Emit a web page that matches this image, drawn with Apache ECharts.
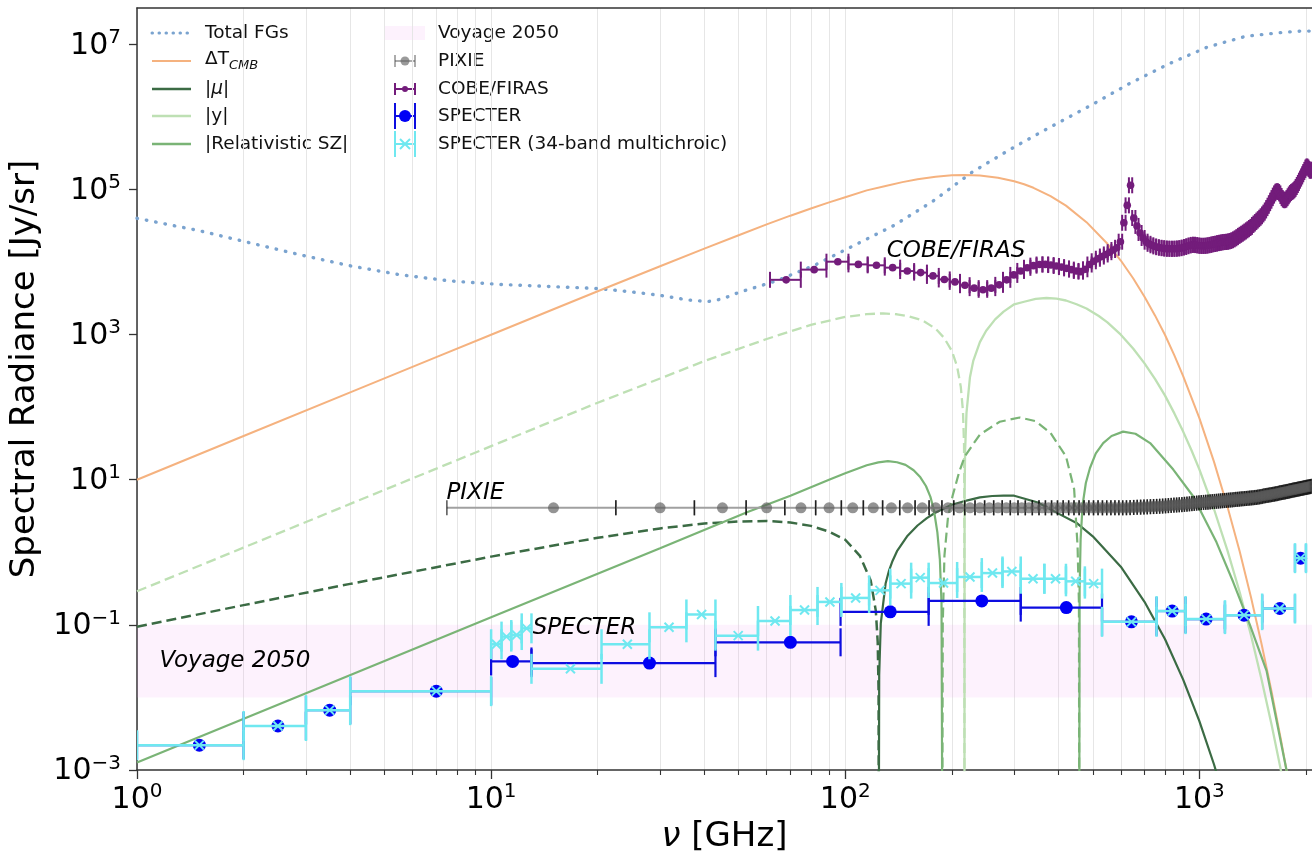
<!DOCTYPE html>
<html>
<head>
<meta charset="utf-8">
<title>Spectral distortions vs sensitivities</title>
<script src="https://cdn.jsdelivr.net/npm/echarts@6.0.0/dist/echarts.min.js"></script>
<style>
  html, body { margin: 0; padding: 0; background: #fff; }
  #chart { width: 1312px; height: 859px; }
</style>
</head>
<body>
<div id="chart"></div>
<script>
// ---------- axes ----------
const xMin = 1, xMax = 2080;
const yMin = 1e-3, yMax = 31622776;
const majorTicks = [1, 10, 100, 1000];
const minorTicks = [2, 3, 4, 5, 6, 7, 8, 9, 20, 30, 40, 50, 60, 70, 80, 90,
  200, 300, 400, 500, 600, 700, 800, 900, 2000];
const yTicks = [1e-3, 1e-1, 1e1, 1e3, 1e5, 1e7];

// ---------- curves: [GHz, Jy/sr] ----------
const totalFG = [[1, 40000], [1.5, 27000], [2.08, 18400], [2.88, 12600], [3.98, 8900], [5.5, 6700],
  [7.6, 5500], [10.6, 4900], [14.6, 4600], [20.2, 4300], [24.6, 3900], [29.7, 3500], [35.9, 3000],
  [41, 2850], [45, 3100], [50, 3800], [64, 5500], [83, 9300], [107, 17400], [138, 32400],
  [177, 69000], [229, 175000], [295, 366000], [381, 733000], [491, 1420000], [632, 2840000],
  [815, 5300000], [1050, 9100000], [1353, 12900000], [1700, 14500000], [1933, 15200000], [2100, 15200000]];

const deltaT = [[1, 10], [2, 40], [4, 160], [7, 488], [10, 995], [15, 2230], [20, 3950], [30, 8750],
  [40, 15300], [50, 23400], [60, 33000], [70, 43470], [80, 54660], [90, 66380], [100, 78200],
  [115, 97000], [130, 111800], [145, 126100], [160, 138100], [180, 150000], [200, 156600],
  [217, 158400], [240, 155700], [270, 145200], [300, 129600], [320, 117700], [340, 105300], [380, 81000],
  [420, 59800], [480, 35400], [550, 17840], [600, 10480], [650, 5970], [700, 3326], [750, 1823],
  [800, 986], [850, 517], [900, 268], [1000, 70.7], [1100, 17.6], [1200, 4.27], [1300, 1.025],
  [1400, 0.236], [1500, 0.0533], [1600, 0.0119], [1700, 0.0026], [1800, 0.00056]];

const muNeg = [[1, 0.094], [2, 0.187], [4, 0.367], [7, 0.623], [10, 0.871], [15, 1.239], [20, 1.583],
  [30, 2.133], [40, 2.49], [50, 2.654], [60, 2.70], [70, 2.575], [80, 2.312], [90, 1.927],
  [100, 1.489], [110, 0.895], [118, 0.409], [122, 0.156], [123.5, 0.058], [124.2, 0.012], [124.39, 0.0001]];
const muPos = [[124.39, 0.0001], [124.7, 0.0202], [126, 0.105], [130, 0.371], [133, 0.565],
  [136, 0.759], [140, 1.036], [150, 1.69], [160, 2.34], [170, 2.955], [180, 3.53], [200, 4.51],
  [220, 5.16], [240, 5.71], [260, 5.96], [280, 6.05], [300, 6.02], [350, 4.86], [400, 3.41],
  [450, 2.535], [500, 1.66], [600, 0.633], [700, 0.208], [800, 0.0634], [900, 0.0176],
  [1000, 0.00472], [1100, 0.00119], [1200, 0.00029]];

const yNeg = [[1, 0.29], [2, 1.16], [4, 4.64], [7, 14.2], [10, 29], [20, 115], [30, 248], [40, 431],
  [50, 635], [60, 869], [80, 1363], [100, 1750], [115, 1910], [128, 1960], [140, 1905], [150, 1800],
  [165, 1572], [180, 1205], [190, 906], [200, 596], [207, 362], [212, 190], [215, 88], [216.5, 30],
  [216.9, 6], [217.1, 0.0001]];
const yPos = [[217.1, 0.0001], [217.3, 6], [218, 25], [220, 84], [225, 259], [230, 439], [240, 787],
  [250, 1131], [265, 1618], [280, 2074], [300, 2615], [320, 2833], [345, 3109], [370, 3190],
  [395, 3121], [420, 2948], [450, 2619], [480, 2284], [520, 1801], [550, 1469], [600, 997],
  [650, 644], [700, 401], [750, 243], [800, 144], [850, 82], [900, 46], [950, 25.5], [1000, 13.9],
  [1100, 3.92], [1200, 1.06], [1300, 0.281], [1400, 0.0706], [1500, 0.0173], [1600, 0.00417],
  [1700, 0.00098], [1800, 0.00022]];

const rszPosLow = [[1, 0.00127], [3, 0.0114], [10, 0.127], [30, 1.14], [53, 3.6], [70, 6.0], [90, 10],
  [100, 12.3], [115, 15.8], [124, 17.3], [132, 18], [140, 17.4], [148, 16], [156, 13.5], [163, 10.8],
  [169, 8.2], [174, 5.8], [178, 3.8], [182, 1.9], [185, 0.8], [187, 0.2], [188, 0.0001]];
const rszNeg = [[188, 0.0001], [188.5, 0.1], [190.6, 0.9], [195, 3], [201, 6], [210, 13], [217.6, 21],
  [240, 42], [273, 63], [311, 72], [345, 64], [380, 44], [420, 21], [443, 7.4], [453, 1.2],
  [457, 0.2], [458, 0.0001]];
const rszPosHigh = [[458, 0.0001], [459, 0.3], [462, 1.5], [468, 4.5], [478, 9], [491, 14.5], [510, 23],
  [535, 32], [565, 40], [609, 46], [660, 43], [726, 32], [844, 13.8], [959, 5.97], [1118, 1.37],
  [1246, 0.389], [1389, 0.1], [1549, 0.023], [1762, 0.001], [1900, 0.00015]];

// ---------- Voyage 2050 band ----------
const voyageLow = 0.01, voyageHigh = 0.1;

// ---------- PIXIE: 15 GHz bands from 7.5 GHz ----------
const pixieStart = 7.5, pixieWidth = 15;
const pixieVals = [
  4.1, 4.1, 4.1, 4.1, 4.1, 4.1, 4.1, 4.1, 4.1, 4.1,
  4.1, 4.1, 4.1, 4.1, 4.1, 4.1, 4.1, 4.1, 4.1, 4.1,
  4.1, 4.1, 4.1, 4.1, 4.1, 4.1, 4.1, 4.1, 4.1, 4.1,
  4.1, 4.1, 4.1, 4.1, 4.1, 4.1, 4.1, 4.1, 4.1, 4.1,
  4.1, 4.12, 4.14, 4.16, 4.18, 4.2, 4.22, 4.24, 4.26, 4.28, 4.3, 4.32, 4.35,
  4.38, 4.41, 4.44, 4.47, 4.5, 4.53, 4.56, 4.6, 4.63, 4.67, 4.7, 4.74, 4.78, 4.82,
  4.85, 4.88, 4.91, 4.94, 4.97, 5.0, 5.03, 5.06, 5.09, 5.12, 5.15, 5.18, 5.21, 5.24, 5.27, 5.3,
  5.33, 5.36, 5.39, 5.42, 5.45, 5.48, 5.51, 5.54, 5.57, 5.6, 5.63, 5.66, 5.7, 5.74, 5.78, 5.82, 5.86,
  5.95, 6.0, 6.05, 6.1, 6.15, 6.2, 6.25, 6.3, 6.36, 6.42, 6.48, 6.54, 6.6, 6.66, 6.72, 6.78, 6.84,
  6.9, 6.96, 7.02, 7.08, 7.14, 7.2, 7.26, 7.32, 7.38, 7.44, 7.5, 7.56, 7.62, 7.68, 7.74, 7.8, 7.86,
  7.92, 7.98, 8.04, 8.1
];

// ---------- COBE/FIRAS: 13.6 GHz channels from 68.1 GHz ----------
const firasStart = 68.1, firasStep = 13.6;
const firasVals = [
  5680, 7850, 10100, 9270, 9000, 8360, 7500, 7140, 6430, 5750,
  5320, 4790, 4365, 4140, 4365, 4840, 5680, 6640, 7530, 8320,
  8910, 9230, 9270, 9080, 8810, 8510, 8170, 7850, 7530, 7360,
  7940, 9230, 10230, 11090, 11890, 12700, 13650, 14620, 15700, 19050,
  34700, 60300, 114000, 40400, 31400, 25100, 21400, 19050, 17800, 17000,
  16400, 16000, 15700, 15500, 15300, 15240, 15200, 15200, 15240, 15350,
  15500, 15800, 16100, 16500, 16900, 17200, 17300, 17100, 16900, 16700,
  16700, 16700, 16800, 17000, 17200, 17500, 17700, 17900, 18200, 18400,
  18600, 18800, 18900, 19000, 19200, 19500, 19950, 20500, 21200, 22000,
  22900, 23700, 24500, 25400, 26300, 27300, 28300, 29400, 30500, 32400,
  33900, 35500, 37200, 38900, 40700, 42700, 45200, 47900, 51300, 55300,
  59600, 64600, 70000, 75900, 82200, 88100, 92900, 94400, 92300, 88100,
  81300, 75900, 72400, 71100, 72400, 75900, 80400, 85100, 89100, 92300,
  94400, 97700, 102000, 108000, 115000, 123000, 132000, 141000, 151000, 162000,
  174000, 186000, 200000, 207000, 200000, 191000, 182000, 182000, 186000
];

// ---------- SPECTER bands: [low GHz, high GHz, centre GHz, Jy/sr] ----------
const specterBands = [
  [1, 2, 1.5, 0.0022], [2, 3, 2.5, 0.00404], [3, 4, 3.5, 0.00668], [4, 10, 7, 0.0122],
  [10, 13, 11.5, 0.0313], [13, 43, 28, 0.0297], [43, 97, 70, 0.0575], [97, 172, 134, 0.151],
  [172, 313, 243, 0.214], [313, 531, 421, 0.173],
  [531, 757, 643, 0.110], [757, 914, 838, 0.155], [914, 1181, 1045, 0.12],
  [1181, 1504, 1337, 0.136], [1504, 1862, 1687, 0.168], [1862, 2000, 1931, 0.83]
];
const specter34Bands = [
  [1, 2, 1.5, 0.0022], [2, 3, 2.5, 0.00404], [3, 4, 3.5, 0.00668], [4, 10, 7, 0.0122],
  [10, 10.7, 10.35, 0.054], [10.7, 11.4, 11.05, 0.0689], [11.4, 12.2, 11.8, 0.0724],
  [12.2, 13.0, 12.6, 0.0895], [13.0, 20.5, 16.75, 0.0248], [20.5, 28, 24.25, 0.054],
  [28, 35.6, 31.8, 0.0925], [35.6, 43, 39.3, 0.139], [43, 56.7, 49.85, 0.071],
  [56.7, 70, 63.35, 0.113], [70, 83.5, 76.75, 0.16], [83.5, 97.5, 90.5, 0.207],
  [97.5, 116.8, 107, 0.235], [116.8, 134, 125.4, 0.299], [134, 153.5, 143.8, 0.37],
  [153.5, 172, 162.8, 0.447], [172, 207, 189.5, 0.377], [207, 243, 225, 0.457],
  [243, 278, 260.5, 0.517], [278, 313, 295.5, 0.544], [313, 365, 339, 0.432],
  [365, 420, 392.5, 0.432], [420, 475, 447.5, 0.398], [475, 531, 503, 0.37],
  [531, 757, 643, 0.110], [757, 914, 838, 0.155], [914, 1181, 1045, 0.12],
  [1181, 1504, 1337, 0.136], [1504, 1862, 1687, 0.168], [1862, 2000, 1931, 0.83]
];

// ---------- in-plot labels: [GHz, Jy/sr, text] ----------
const notes = [[7.48, 6.56, 'PIXIE'], [13.1, 0.0904, 'SPECTER'], [131, 14300, 'COBE/FIRAS'],
  [1.158, 0.032, 'Voyage 2050']];

// ---------- colours ----------
const C = {
  fg: '#7aa3cf', dT: '#f5b27f', mu: '#3b6b44', y: '#bee0b4', rsz: '#7ab476',
  voyage: 'rgba(236, 150, 236, 0.12)', pixie: '#9a9a9a', firas: '#731c7b',
  specter: '#0d0de0', spec34: '#6fe8f0'
};
const FONT = 'DejaVu Sans';

const pixieData = pixieVals.map((v, i) => {
  const lo = pixieStart + pixieWidth * i;
  return [lo, lo + pixieWidth, lo + pixieWidth / 2, v];
});
const firasData = firasVals.map((v, i) => {
  const c = firasStart + firasStep * i;
  return [c - firasStep / 2, c + firasStep / 2, c, v];
});

// horizontal bar + end caps + marker, all through the axis scales
function errorBars(o) {
  return function (params, api) {
    const v = api.value(3);
    const a = api.coord([api.value(0), v]);
    const b = api.coord([api.value(1), v]);
    const c = api.coord([api.value(2), v]);
    const capStyle = { stroke: o.capColor || o.color, lineWidth: o.capWidth || o.width };
    const kids = [
      { type: 'line', shape: { x1: a[0], y1: a[1], x2: b[0], y2: b[1] },
        style: { stroke: o.color, lineWidth: o.width } },
      { type: 'line', shape: { x1: a[0], y1: a[1] - o.cap, x2: a[0], y2: a[1] + o.cap }, style: capStyle },
      { type: 'line', shape: { x1: b[0], y1: b[1] - o.cap, x2: b[0], y2: b[1] + o.cap }, style: capStyle }
    ];
    if (o.marker === 'x') {
      const s = o.size;
      kids.push({ type: 'line', shape: { x1: c[0] - s, y1: c[1] - s, x2: c[0] + s, y2: c[1] + s },
        style: { stroke: o.color, lineWidth: 2 } });
      kids.push({ type: 'line', shape: { x1: c[0] - s, y1: c[1] + s, x2: c[0] + s, y2: c[1] - s },
        style: { stroke: o.color, lineWidth: 2 } });
    } else {
      kids.push({ type: 'circle', shape: { cx: c[0], cy: c[1], r: o.size },
        style: { fill: o.markerColor || o.color } });
    }
    return { type: 'group', children: kids };
  };
}

function curve(name, data, color, width, type, cap) {
  return {
    name: name, type: 'line', data: data, showSymbol: false, symbol: 'none',
    smooth: false, z: 2, clip: true,
    lineStyle: { color: color, width: width, type: type || 'solid', cap: cap || 'butt' }
  };
}

function powLabel(v) {
  const e = Math.round(Math.log10(v));
  return '{b|10}{s|' + (e < 0 ? '\u2212' + (-e) : e) + '}';
}
const tickRich = {
  b: { fontSize: 30, fontFamily: FONT, color: '#000', verticalAlign: 'bottom' },
  s: { fontSize: 20, fontFamily: FONT, color: '#000', verticalAlign: 'bottom', padding: [0, 0, 13, 0] }
};

// ---------- legend (drawn as graphics) ----------
const rows = [33, 61, 89, 116, 144];
const legendItems = [];
function lgText(x, y, text, rich) {
  legendItems.push({ type: 'text', x: x, y: y,
    style: { text: text, fill: '#111', fontSize: 18.5, fontFamily: FONT, verticalAlign: 'middle', rich: rich } });
}
function lgLine(y, color, width, dash) {
  legendItems.push({ type: 'line', shape: { x1: 152, y1: y, x2: 191, y2: y },
    style: { stroke: color, lineWidth: width, lineDash: dash || null, lineCap: dash ? 'round' : 'butt' } });
}
function lgBar(y, color, cap, width) {
  legendItems.push({ type: 'line', shape: { x1: 395, y1: y, x2: 415, y2: y }, style: { stroke: color, lineWidth: width } });
  legendItems.push({ type: 'line', shape: { x1: 395, y1: y - cap, x2: 395, y2: y + cap }, style: { stroke: color, lineWidth: width } });
  legendItems.push({ type: 'line', shape: { x1: 415, y1: y - cap, x2: 415, y2: y + cap }, style: { stroke: color, lineWidth: width } });
}
lgLine(rows[0], C.fg, 3, [0.5, 6.5]);
lgLine(rows[1], C.dT, 2);
lgLine(rows[2], C.mu, 2.5);
lgLine(rows[3], C.y, 2.5);
lgLine(rows[4], C.rsz, 2.5);
lgText(205, rows[0], 'Total FGs');
lgText(205, rows[1], '{n|\u0394T}{sub|CMB}', {
  n: { fontSize: 18.5, fontFamily: FONT, verticalAlign: 'bottom', padding: [0, 0, 4, 0] },
  sub: { fontSize: 13, fontFamily: FONT, fontStyle: 'italic', verticalAlign: 'bottom' } });
lgText(205, rows[2], '|{i|\u03bc}|', { i: { fontSize: 18.5, fontFamily: FONT, fontStyle: 'italic' } });
lgText(205, rows[3], '|y|');
lgText(205, rows[4], '|Relativistic SZ|');

legendItems.push({ type: 'rect', shape: { x: 385, y: rows[0] - 7, width: 40, height: 14 }, style: { fill: C.voyage } });
lgBar(rows[1], 'rgba(70,70,70,0.6)', 6, 1.5);
legendItems.push({ type: 'circle', shape: { cx: 405, cy: rows[1], r: 4.5 }, style: { fill: 'rgba(100,100,100,0.65)' } });
lgBar(rows[2], C.firas, 6, 2);
legendItems.push({ type: 'circle', shape: { cx: 405, cy: rows[2], r: 3 }, style: { fill: C.firas } });
lgBar(rows[3], C.specter, 13, 2);
legendItems.push({ type: 'circle', shape: { cx: 405, cy: rows[3], r: 6 }, style: { fill: '#0000f5' } });
lgBar(rows[4], C.spec34, 13, 2);
legendItems.push({ type: 'line', shape: { x1: 400, y1: rows[4] - 5, x2: 410, y2: rows[4] + 5 }, style: { stroke: C.spec34, lineWidth: 2 } });
legendItems.push({ type: 'line', shape: { x1: 400, y1: rows[4] + 5, x2: 410, y2: rows[4] - 5 }, style: { stroke: C.spec34, lineWidth: 2 } });
lgText(438, rows[0], 'Voyage 2050');
lgText(438, rows[1], 'PIXIE');
lgText(438, rows[2], 'COBE/FIRAS');
lgText(438, rows[3], 'SPECTER');
lgText(438, rows[4], 'SPECTER (34-band multichroic)');

// ---------- chart ----------
const chart = echarts.init(document.getElementById('chart'), null, { renderer: 'canvas' });
const axisLine = { show: true, lineStyle: { color: '#333', width: 1.5 } };

const option = {
  animation: false,
  backgroundColor: '#fff',
  grid: { left: 137, right: 0, top: 8, bottom: 83 },
  xAxis: [
    {
      type: 'log', min: xMin, max: xMax, position: 'bottom',
      name: '{i|\u03bd} [GHz]', nameLocation: 'middle', nameGap: 50,
      nameTextStyle: { fontSize: 34, fontFamily: FONT, color: '#000',
        rich: { i: { fontSize: 34, fontFamily: FONT, fontStyle: 'italic', color: '#000' } } },
      axisLine: axisLine,
      axisTick: { show: true, customValues: majorTicks, length: 9, lineStyle: { color: '#333', width: 1.3 } },
      axisLabel: { customValues: majorTicks, formatter: powLabel, rich: tickRich, margin: 12 },
      splitLine: { show: true, lineStyle: { color: '#e6e6e6', width: 1 } }
    },
    {
      type: 'log', min: xMin, max: xMax, position: 'bottom',
      axisLine: { show: false },
      axisTick: { show: true, customValues: minorTicks, length: 5, lineStyle: { color: '#333', width: 1.1 } },
      axisLabel: { show: false },
      splitLine: { show: true, lineStyle: { color: '#e6e6e6', width: 1 } }
    },
    {
      type: 'log', min: xMin, max: xMax, position: 'top',
      axisLine: axisLine, axisTick: { show: false }, axisLabel: { show: false }, splitLine: { show: false }
    }
  ],
  yAxis: {
    type: 'log', min: yMin, max: yMax,
    name: 'Spectral Radiance [Jy/sr]', nameLocation: 'middle', nameGap: 92,
    nameTextStyle: { fontSize: 34, fontFamily: FONT, color: '#000', padding: [0, 0, 0, 40] },
    axisLine: axisLine,
    axisTick: { show: true, customValues: yTicks, length: 8, lineStyle: { color: '#333', width: 1.3 } },
    axisLabel: { customValues: yTicks, formatter: powLabel, rich: tickRich, margin: 16 },
    splitLine: { show: false }
  },
  graphic: { elements: legendItems },
  series: [
    {
      name: 'Voyage 2050', type: 'line', data: [], z: 1, silent: true,
      markArea: { silent: true, itemStyle: { color: C.voyage },
        data: [[{ xAxis: xMin, yAxis: voyageLow }, { xAxis: xMax, yAxis: voyageHigh }]] }
    },
    curve('Total FGs', totalFG, C.fg, 3.4, [0.5, 9], 'round'),
    curve('dT', deltaT, C.dT, 2),
    curve('mu-', muNeg, C.mu, 2.5, [10, 5]),
    curve('mu+', muPos, C.mu, 2.2),
    curve('y-', yNeg, C.y, 2.3, [10, 5]),
    curve('y+', yPos, C.y, 2.3),
    curve('rsz+low', rszPosLow, C.rsz, 2.2),
    curve('rsz-', rszNeg, C.rsz, 2.2, [10, 5]),
    curve('rsz+high', rszPosHigh, C.rsz, 2.2),
    {
      name: 'PIXIE', type: 'custom', data: pixieData, z: 3, clip: true, silent: true,
      encode: { x: [0, 1, 2], y: 3 },
      renderItem: errorBars({ color: '#a0a0a0', width: 2, cap: 7.5, capColor: 'rgba(10,10,10,0.7)',
        capWidth: 1.5, size: 5.5, markerColor: 'rgba(90,90,90,0.65)' })
    },
    {
      name: 'COBE/FIRAS', type: 'custom', data: firasData, z: 4, clip: true, silent: true,
      encode: { x: [0, 1, 2], y: 3 },
      renderItem: errorBars({ color: C.firas, width: 2, cap: 8, size: 3.8 })
    },
    {
      name: 'SPECTER', type: 'custom', data: specterBands, z: 5, clip: true, silent: true,
      encode: { x: [0, 1, 2], y: 3 },
      renderItem: errorBars({ color: C.specter, width: 2.2, cap: 14, size: 6.5, markerColor: '#0000f5' })
    },
    {
      name: 'SPECTER (34-band multichroic)', type: 'custom', data: specter34Bands, z: 6, clip: true, silent: true,
      encode: { x: [0, 1, 2], y: 3 },
      renderItem: errorBars({ color: C.spec34, width: 2.5, cap: 15, size: 4.5, marker: 'x' })
    },
    {
      name: 'notes', type: 'scatter', symbolSize: 0, z: 10, silent: true,
      data: notes.map(n => ({ value: [n[0], n[1]], name: n[2] })),
      itemStyle: { opacity: 1 },
      label: { show: true, position: 'right', distance: 0, formatter: '{b}', opacity: 1,
        fontSize: 23, fontFamily: FONT, fontStyle: 'italic', color: '#000', textBorderWidth: 0 }
    }
  ]
};
chart.setOption(option);
</script>
</body>
</html>
